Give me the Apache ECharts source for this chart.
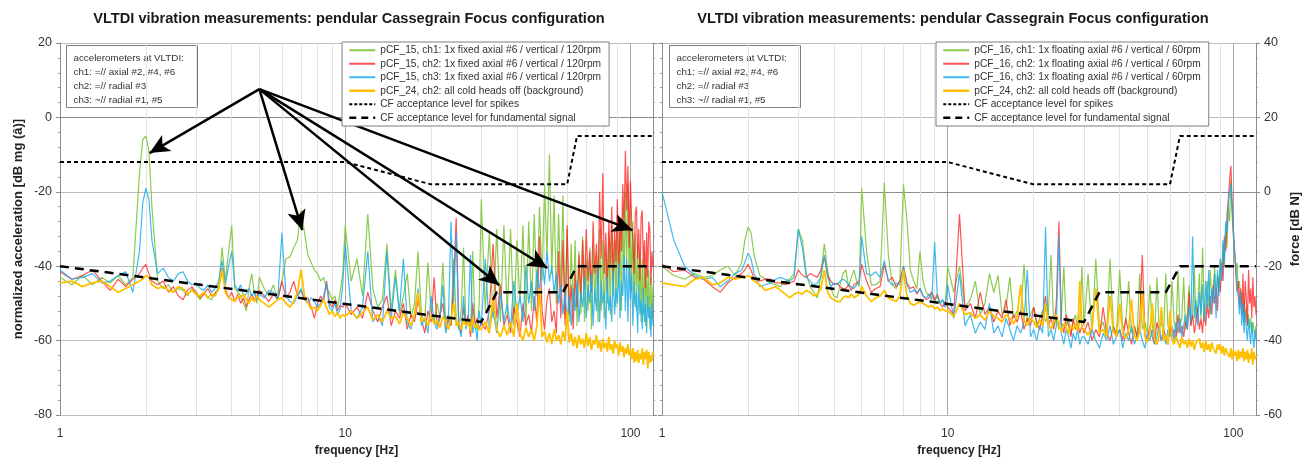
<!DOCTYPE html>
<html>
<head>
<meta charset="utf-8">
<title>VLTDI vibration measurements</title>
<script src="https://cdn.jsdelivr.net/npm/echarts@6.0.0/dist/echarts.min.js"></script>
<style>
  html, body { margin: 0; padding: 0; background: #fff; }
  #chart { width: 1306px; height: 463px; }
</style>
</head>
<body>
<div id="chart"></div>
<script>
// frequency bins [Hz] shared by every spectrum
const freq = [
  1.0, 1.1, 1.2, 1.3, 1.4, 1.5, 1.6, 1.7, 1.8, 1.9, 1.95, 2.0, 2.05,
  2.1, 2.2, 2.3, 2.4, 2.5, 2.6, 2.7, 2.8, 2.9, 3.0, 3.1, 3.2, 3.3, 3.4, 3.5, 3.6, 3.7, 3.8, 3.9, 4.0,
  4.1, 4.2, 4.3, 4.4, 4.5, 4.6, 4.7, 4.8, 4.9,
  5.0, 5.2, 5.4, 5.6, 5.8, 6.0, 6.2, 6.4, 6.6, 6.8, 7.0, 7.2, 7.4, 7.6, 7.8, 8.0, 8.2, 8.4, 8.6, 8.8,
  9.0, 9.2, 9.4, 9.6, 9.8,
  10, 10.5, 11, 11.5, 12, 12.5, 13, 13.5, 14, 14.5, 15, 15.5, 16, 16.5, 17, 17.5, 18, 18.5, 19, 19.5,
  20, 20.5, 21, 21.5, 22, 22.5, 23, 23.5, 24, 24.5, 25, 25.5, 26, 26.5, 27, 27.5, 28, 28.5, 29, 29.5,
  30, 31, 32, 33, 34, 35, 36, 37, 38, 39, 40, 41, 42, 43, 44, 45, 46, 47, 48, 49,
  50, 51, 52, 53, 54, 55, 56, 57, 58, 59, 60, 61, 62, 63, 64, 65, 66, 67, 68, 69,
  70, 71, 72, 73, 74, 75, 76, 77, 78, 79, 80, 81, 82, 83, 84, 85, 86, 87, 88, 89,
  90, 91, 92, 93, 94, 95, 96, 97, 98, 99, 100, 101, 102, 103, 104, 105, 106, 107, 108, 109,
  110, 111, 112, 113, 114, 115, 116, 117, 118, 119, 120
];

// left panel: pCF_15 (120rpm), dB mg
const leftCh1 = [
  -43, -45, -42.5, -45, -43, -44.5, -42.5, -45, -43, -15, -6, -5, -9,
  -24, -44, -46, -45, -47, -46, -46.5, -48, -46, -47.5, -49, -47, -48.5, -49, -47, -46, -35, -44, -36, -29,
  -46, -47, -48, -50, -52, -46, -42, -47, -50,
  -43, -46, -48, -45, -49, -44, -38, -37.5, -35, -33, -25, -31, -37, -39, -41, -42, -44, -43, -46, -47,
  -49, -48, -51, -47, -42,
  -29, -44, -38, -48, -26, -46, -51, -49, -34, -52, -41, -53, -48, -42, -54, -50, -36, -53, -55, -39,
  -52, -55, -50, -54, -39, -55, -53, -56, -38, -54, -57, -52, -35, -56, -54, -58, -36, -55, -57, -50,
  -22, -52, -31, -54, -30, -55, -29, -53, -30, -56, -33, -50, -29, -55, -28, -52, -26, -48, -24, -44,
  -18, -38, -10, -42, -21, -50, -26, -47, -21, -54, -30, -55, -34, -52, -33, -56, -36, -53, -32, -55,
  -38, -52, -35, -57, -34, -50, -37, -55, -30, -52, -33, -54, -36, -50, -31, -53, -29, -48, -33, -51,
  -27, -46, -30, -52, -24, -44, -20, -41, -18, -45, -24, -47, -28, -50, -31, -52, -34, -49, -36, -55,
  -38, -53, -36, -56, -40, -52, -41, -57, -43, -54, -45
];
const leftCh2 = [
  -41.5, -43.5, -42.5, -41, -44, -46.5, -43.5, -45.5, -43.5, -42, -40.5, -39.5, -42,
  -44, -45, -44, -47, -45.5, -48, -49, -46.5, -45.5, -47, -48.5, -47.5, -46, -48, -47.5, -46, -40.5, -46, -48.5, -47,
  -49.5, -47.5, -50, -48.5, -51, -49, -47.5, -49, -48,
  -46.5, -48, -49.5, -47.5, -49, -44, -48.5, -47, -44, -48, -46.5, -49, -48.5, -51, -54, -50, -48, -49.5, -44, -50,
  -51, -49, -52, -50.5, -51,
  -50, -53, -51, -54, -47, -52, -55, -51, -48, -56, -52, -54, -50, -57, -53, -55, -49, -54, -58, -52,
  -55, -43, -56, -53, -50, -57, -54, -56, -44, -27, -55, -58, -51, -56, -53, -59, -50, -56, -54, -57,
  -55, -57, -52, -34, -54, -45, -56, -53, -58, -51, -55, -59, -50, -56, -53, -58, -48, -55, -32, -52,
  -57, -49, -46, -55, -52, -58, -36, -54, -33, -56, -29, -53, -45, -57, -42, -51, -37, -48, -33, -46,
  -30, -44, -36, -47, -28, -42, -34, -45, -20, -38, -15, -42, -31, -47, -28, -40, -24, -44, -30, -39,
  -22, -43, -27, -36, -18, -30, -9, -25, -13, -35, -17, -28, -33, -42, -26, -24, -38, -30, -44, -27,
  -25, -40, -33, -46, -31, -43, -28, -30, -45, -36, -40
];
const leftCh3 = [
  -41, -43.5, -43, -42, -44.5, -44, -42.5, -41.5, -47, -36, -23, -19, -22,
  -33, -42, -40.5, -43, -44, -42, -41.5, -44, -45, -44.5, -46, -46.5, -45, -47, -46, -44, -38.5, -45, -40, -36,
  -45, -46.5, -45, -48, -47.5, -46, -48, -47, -49,
  -47.5, -48.5, -46.5, -47, -49, -31, -48, -49.5, -50, -48, -46, -49, -50, -48.5, -49.5, -51, -50, -48, -44.5, -51,
  -52, -50, -53, -51.5, -45,
  -34, -52, -54, -51, -36, -55, -53, -56, -36, -54, -43, -52, -38, -55, -57, -53, -46, -56, -54, -58,
  -48, -55, -57, -54, -45, -58, -55, -28, -50, -31, -56, -59, -48, -57, -54, -37, -58, -55, -60, -52,
  -56, -38, -57, -52, -58, -47, -55, -50, -57, -44, -53, -48, -55, -40, -50, -44, -52, -41, -47, -38,
  -45, -36, -44, -40, -47, -42, -50, -45, -53, -47, -55, -48, -56, -46, -52, -44, -55, -47, -51, -43,
  -54, -45, -50, -42, -56, -46, -52, -40, -55, -44, -50, -47, -57, -43, -52, -48, -55, -41, -53, -46,
  -50, -39, -54, -44, -48, -37, -52, -38, -55, -40, -49, -42, -56, -44, -51, -47, -58, -45, -53, -49,
  -57, -46, -55, -50, -58, -48, -54, -51, -59, -50, -56
];
const leftBg = [
  -44.5, -44, -45.5, -44.5, -44, -45.5, -47, -46, -45, -44, -43.5, -42.5, -43,
  -45, -46, -45.5, -46.5, -47, -45.5, -46, -47.5, -46.5, -47.5, -48, -47, -48.5, -47.5, -48, -46, -41, -47, -48.5, -49,
  -49.5, -48, -48.5, -47.5, -49, -50, -48.5, -49.5, -48,
  -49, -50, -51, -50, -49, -48.5, -50, -51, -49.5, -47, -41, -48, -50, -51.5, -51, -52, -50.5, -49, -51, -53,
  -52, -53.5, -52.5, -54, -53,
  -53.5, -52, -54, -52.5, -51, -54.5, -53, -55, -52, -54, -53.5, -55.5, -52.5, -54, -56, -53, -47, -55, -54, -56,
  -53, -55.5, -54.5, -56.5, -53.5, -55, -57, -54, -50, -56, -55, -57, -54.5, -56, -55, -57.5, -54, -56.5, -55.5, -57,
  -57, -55, -58, -48, -57, -59, -56, -58.5, -55, -59, -50, -58, -60, -56.5, -59, -57, -60, -56, -46, -59,
  -57.5, -60.5, -58, -61, -57, -60, -58.5, -61, -57.5, -60, -52, -60.5, -58, -61.5, -59, -62, -58.5, -61, -59.5, -62,
  -58, -61.5, -59, -62.5, -60, -61, -58.5, -62, -60, -63, -59.5, -62, -60.5, -63, -59, -62.5, -61, -63.5, -60, -62,
  -61, -64, -60.5, -63, -61.5, -64.5, -62, -63.5, -61, -64, -62.5, -65, -62, -66, -63, -65.5, -62.5, -66, -63.5, -65,
  -62, -66.5, -63, -65, -62.5, -67.5, -63, -66, -64, -65.5, -63
];

// right panel: pCF_16 (60rpm), dB N
const rightCh1 = [
  -20, -22.5, -23.5, -22, -23, -22.5, -21, -20, -22.5, -19, -13, -9.5, -11,
  -17, -22.5, -23.5, -24.5, -25, -25.5, -24, -23.5, -22, -10, -13, -22, -25.5, -27, -28.5, -22, -14, -21, -26, -28,
  -28.5, -25, -22, -21, -25.5, -23, -21, -24, -25.5,
  1, -16, -25, -25, -24, 2.5, -17, -25, -26, -24, 2, -7.5, -21, -24, -26, -16, -24, -27, -28, -27,
  -29.5, -28, -30, -29, -31,
  -20, -27, -20, -31, -29, -24, -33, -30, -22, -27, -22.5, -33, -31, -23, -34, -32, -33, -19.5, -35, -33,
  -31, -36, -34, -32, -35, -33, -17, -36, -34, -37, -33, -20, -36, -34, -38, -35, -33, -37, -35, -20,
  -36, -22, -38, -18, -37, -35, -39, -18, -36, -38, -21, -37, -35, -24, -38, -36, -39, -22, -37, -35,
  -38, -25, -36, -39, -23, -37, -35, -38, -22, -36, -38, -24, -35, -38, -21, -36, -34, -23, -37, -33,
  -25, -36, -32, -20, -35, -31, -22, -34, -15, -30, -33, -24, -31, -21, -29, -26, -20, -28, -22, -26,
  -18, -24, -14, -20, -9, -15, -4, -8, 3, -6, -12, -16, -21, -19, -26, -24, -30, -27, -33, -29,
  -35, -31, -36, -33, -37, -34, -38, -35, -37, -39, -36
];
const rightCh2 = [
  -19.5, -21.5, -21, -23, -23.5, -25.5, -27, -24.5, -23, -22, -21, -19.5, -21,
  -23.5, -24, -23.5, -23.5, -24.5, -24.5, -25, -24.5, -24, -21, -22.5, -23, -22, -22.5, -23, -21, -17.5, -22.5, -24, -25,
  -24.5, -25.5, -26, -26, -25, -26.5, -25, -24.5, -24,
  -19.5, -24, -27, -26, -25.5, -19.5, -24, -23, -25.5, -24, -20, -24.5, -26, -25.5, -27.5, -26, -28, -29, -28.5, -27,
  -29, -27.5, -30, -31, -29.5,
  -31, -33, -6, -32, -30, -34, -27, -33, -31, -35, -32, -34, -29, -36, -33, -35, -32, -37, -34, -36,
  -31, -35, -37, -33, -28, -36, -34, -37, -30, -8, -35, -38, -33, -36, -39, -34, -37, -35, -38, -36,
  -38, -35, -40, -37, -39, -31, -38, -40, -36, -39, -37, -40, -34, -38, -41, -36, -39, -35, -17, -38,
  -40, -36, -39, -41, -35, -38, -40, -37, -39, -41, -36, -39, -37, -40, -33, -38, -36, -39, -35, -37,
  -27, -36, -33, -38, -35, -31, -37, -34, -38, -32, -36, -30, -34, -28, -33, -25, -30, -26, -32, -23,
  -27, -19, -24, -12, -16, -6, -2, 3, 7, -3, -10, -16, -22, -27, -24, -31, -26, -33, -22, -35,
  -24, -29, -36, -21, -30, -26, -34, -23, -31, -28, -33
];
const rightCh3 = [
  0, -13, -20, -22.5, -23.5, -23, -25.5, -24, -22, -21, -19, -16.5, -18,
  -22, -25.5, -25, -24.5, -23.5, -23, -23.5, -24, -23, -10, -15, -23, -24, -25, -24.5, -23, -17, -23, -25.5, -24.5,
  -25, -24, -23.5, -24, -25, -25.5, -26, -25, -24.5,
  -12, -22, -22.5, -21.5, -23, -18.5, -24, -25, -24.5, -25, -20, -25, -27, -26.5, -27, -26, -28, -28.5, -27.5, -29,
  -13.5, -28, -30, -29, -31,
  -25, -34, -22, -36, -33, -38, -35, -37, -30, -38, -36, -39, -34, -37, -40, -36, -38, -35, -21, -39,
  -37, -40, -36, -38, -9.5, -39, -37, -40, -36, -12, -38, -41, -37, -39, -42, -38, -40, -37, -41, -39,
  -39, -41, -37, -40, -42, -38, -40, -36, -41, -39, -37, -42, -38, -40, -36, -41, -39, -37, -40, -42,
  -38, -40, -37, -41, -39, -36, -40, -38, -41, -37, -39, -36, -40, -35, -38, -34, -39, -36, -33, -37,
  -31, -35, -12, -34, -29, -36, -27, -33, -25, -35, -24, -31, -21, -33, -26, -30, -22, -34, -21, -28,
  -18, -24, -13, -19, -8, -11, -3, 0, 2, -4, -11, -17, -20, -26, -28, -33, -27, -36, -30, -38,
  -32, -37, -40, -34, -38, -41, -35, -39, -42, -37, -40
];
const rightBg = [
  -24.5, -25, -25.5, -23.5, -23, -25, -24.5, -23, -23.5, -23, -23, -22.5, -23,
  -24, -25, -26.5, -26, -25.5, -26.5, -27.5, -28.5, -27.5, -27, -27.5, -26.5, -27, -28, -27.5, -26, -21, -27, -28.5, -29,
  -29.5, -29.5, -28.5, -28, -28.5, -27.5, -28.5, -28, -27.5,
  -25.5, -28, -29.5, -28.5, -28, -26.5, -28.5, -29, -29.5, -28, -21, -28, -30, -30.5, -30, -29.5, -30, -30.5, -31, -30.5,
  -31.5, -31, -32, -31.5, -32,
  -32, -33.5, -30, -33, -32.5, -34, -33, -34.5, -32, -33.5, -34, -35, -33, -34, -35.5, -33.5, -25, -34.5, -36, -34,
  -35, -36.5, -34.5, -36, -30, -35.5, -37, -35, -33, -36, -37.5, -35.5, -36.5, -38, -36, -37, -35.5, -37.5, -24, -36.5,
  -37, -38.5, -36.5, -26, -38, -37, -39, -28, -37.5, -39, -30, -38, -39.5, -37, -29, -38.5, -40, -37.5, -27, -39,
  -40.5, -38, -30, -39.5, -41, -38.5, -31, -40, -38.5, -41, -32, -39.5, -41, -39, -40.5, -42, -39, -41, -40, -42,
  -39.5, -41.5, -40, -42.5, -40.5, -41, -39.5, -42, -40.5, -43, -40, -42.5, -41, -43, -40.5, -42, -41.5, -43.5, -41, -42.5,
  -41, -43.5, -41.5, -44, -42, -43, -42.5, -44.5, -42, -45, -42.5, -44, -43, -45.5, -42.5, -45, -43, -44.5, -42, -45.5,
  -43, -45, -42.5, -46, -43.5, -45, -42, -46.5, -43, -45, -44
];

// CF acceptance levels (break points)
const spikeFreq = [1, 10, 20, 60, 65, 120];
const leftSpikeLevel = [-12, -12, -18, -18, -5, -5];
const rightSpikeLevel = [8, 8, 2, 2, 15, 15];
const fundFreq = [1, 30, 34, 58, 65, 120];
const leftFundLevel = [-40, -55, -47, -47, -40, -40];
const rightFundLevel = [-20, -35, -27, -27, -20, -20];

// annotation arrows in the left panel: common origin and the tips [Hz, dB]
const arrowFrom = [5.0, 7.6];
const arrowTips = [[2.06, -9.6], [7.07, -30.3], [34.7, -45.1], [51.1, -40.5], [101.6, -30.3]];

const minorFreqs = [2, 3, 4, 5, 6, 7, 8, 9, 20, 30, 40, 50, 60, 70, 80, 90];

const TITLE = 'VLTDI vibration measurements: pendular Cassegrain Focus configuration';
const NOTE = ['accelerometers at VLTDI:', 'ch1: =// axial #2, #4, #6', 'ch2: =// radial #3', 'ch3: ~// radial #1, #5'];
const BG_NAME = 'pCF_24, ch2: all cold heads off (background)';
const SPIKE_NAME = 'CF acceptance level for spikes';
const FUND_NAME = 'CF acceptance level for fundamental signal';
const leftNames = [
  'pCF_15, ch1: 1x fixed axial #6 / vertical / 120rpm',
  'pCF_15, ch2: 1x fixed axial #6 / vertical / 120rpm',
  'pCF_15, ch3: 1x fixed axial #6 / vertical / 120rpm'
];
const rightNames = [
  'pCF_16, ch1: 1x floating axial #6 / vertical / 60rpm',
  'pCF_16, ch2: 1x floating axial #6 / vertical / 60rpm',
  'pCF_16, ch3: 1x floating axial #6 / vertical / 60rpm'
];

const FONT = '"Liberation Sans", Arial, sans-serif';
const GREEN = '#8CCB4E', RED = '#FF1A1A', BLUE = '#1EADEB', YELLOW = '#FFC000';

const pairs = (xs, ys) => xs.map((x, i) => [x, ys[i]]);

function spectrum(name, vals, color, width, opacity, gi) {
  return {
    type: 'line', name: name, xAxisIndex: gi, yAxisIndex: gi * 2,
    data: pairs(freq, vals), symbol: 'none', showSymbol: false, silent: true,
    lineStyle: { color: color, width: width, opacity: opacity },
    itemStyle: { color: color }, z: 3
  };
}

function level(name, xs, ys, dash, width, gi) {
  return {
    type: 'line', name: name, xAxisIndex: gi, yAxisIndex: gi * 2,
    data: pairs(xs, ys), symbol: 'none', showSymbol: false, silent: true,
    lineStyle: { color: '#000', width: width, type: dash },
    itemStyle: { color: '#000' }, z: 4
  };
}

function minorGrid(gi) {
  return {
    type: 'line', xAxisIndex: gi, yAxisIndex: gi * 2, data: [], silent: true, z: 1,
    markLine: {
      silent: true, symbol: 'none', animation: false, label: { show: false }, z: 1,
      lineStyle: { color: '#e2e2e2', width: 1, type: 'solid' },
      data: minorFreqs.map(f => ({ xAxis: f }))
    }
  };
}

function freqAxis(gi) {
  return {
    type: 'log', logBase: 10, min: 1, max: 120, gridIndex: gi,
    name: 'frequency [Hz]', nameLocation: 'middle', nameGap: 29,
    nameTextStyle: { fontWeight: 'bold', fontSize: 12, color: '#222', fontFamily: FONT },
    axisLine: { lineStyle: { color: '#8c8c8c' } },
    axisTick: { show: true, length: 4, lineStyle: { color: '#8c8c8c' } },
    axisLabel: { color: '#333', fontSize: 12, margin: 13, showMaxLabel: false, fontFamily: FONT },
    splitLine: { show: true, lineStyle: { color: '#a8a8a8' } }
  };
}

function levelAxis(gi, min, max, pos, labelled, name, gap) {
  return {
    type: 'value', gridIndex: gi, min: min, max: max, interval: 20, position: pos,
    name: labelled ? name : '', nameLocation: 'middle', nameGap: gap, nameRotate: 90,
    nameTextStyle: { fontWeight: 'bold', fontSize: 13, color: '#222', fontFamily: FONT },
    axisLine: { show: true, onZero: false, lineStyle: { color: '#8c8c8c' } },
    axisTick: { show: true, length: 4, lineStyle: { color: '#8c8c8c' } },
    minorTick: { show: true, splitNumber: 5, length: 2, lineStyle: { color: '#9c9c9c' } },
    axisLabel: { show: labelled, color: '#333', fontSize: 12.5, margin: 8, fontFamily: FONT },
    splitLine: { show: labelled, lineStyle: { color: '#bdbdbd' } }
  };
}

function legendBox(left, names) {
  const line = (n, w, t) => ({ name: n, lineStyle: t ? { width: w, type: t } : { width: w },
    itemStyle: { opacity: 0, borderWidth: 0 } });
  const items = names.map(n => line(n, 2))
    .concat([line(BG_NAME, 2.5), line(SPIKE_NAME, 2, [3, 2]), line(FUND_NAME, 2.5, [7, 5])]);
  return {
    orient: 'vertical', left: left, top: 42, data: items, z: 8,
    itemWidth: 26, itemHeight: 10, itemGap: 3,
    padding: [3, 8, 3, 6], backgroundColor: '#fff',
    borderColor: '#7f7f7f', borderWidth: 1, borderRadius: 0,
    selectedMode: false,
    textStyle: { fontSize: 10.2, lineHeight: 10.5, color: '#333', fontFamily: FONT }
  };
}

function noteBox(left) {
  return {
    type: 'group', left: left, top: 45, z: 20,
    children: [
      { type: 'rect', shape: { x: 0, y: 0, width: 131, height: 62 },
        style: { fill: '#fff', stroke: '#7f7f7f', lineWidth: 1 } },
      { type: 'text', x: 7, y: 6,
        style: { text: NOTE.join('\n'), font: '9.8px ' + FONT, lineHeight: 14, fill: '#333' } }
    ]
  };
}

const chart = echarts.init(document.getElementById('chart'), null, { renderer: 'canvas' });

chart.setOption({
  animation: false,
  backgroundColor: '#fff',
  title: [
    { text: TITLE, left: 349, top: 11, textAlign: 'center', padding: 0,
      textStyle: { fontSize: 14.6, fontWeight: 'bold', color: '#1a1a1a', fontFamily: FONT } },
    { text: TITLE, left: 953, top: 11, textAlign: 'center', padding: 0,
      textStyle: { fontSize: 14.6, fontWeight: 'bold', color: '#1a1a1a', fontFamily: FONT } }
  ],
  grid: [
    { left: 60, top: 43, width: 593, height: 372 },
    { left: 662, top: 43, width: 594, height: 372 }
  ],
  xAxis: [freqAxis(0), freqAxis(1)],
  yAxis: [
    levelAxis(0, -80, 20, 'left', true, 'normalized acceleration [dB mg (â)]', 35),
    levelAxis(0, -80, 20, 'right', false, '', 0),
    levelAxis(1, -60, 40, 'right', true, 'force [dB N]', 33),
    levelAxis(1, -60, 40, 'left', false, '', 0)
  ],
  legend: [legendBox(342, leftNames), legendBox(936, rightNames)],
  graphic: [noteBox(66), noteBox(669)],
  series: [
    minorGrid(0),
    minorGrid(1),
    spectrum(leftNames[0], leftCh1, GREEN, 1.2, 1, 0),
    spectrum(leftNames[1], leftCh2, RED, 1.2, 0.75, 0),
    spectrum(leftNames[2], leftCh3, BLUE, 1.2, 0.85, 0),
    spectrum(BG_NAME, leftBg, YELLOW, 1.8, 1, 0),
    level(SPIKE_NAME, spikeFreq, leftSpikeLevel, [4, 3], 2, 0),
    level(FUND_NAME, fundFreq, leftFundLevel, [9, 6], 2.5, 0),
    spectrum(rightNames[0], rightCh1, GREEN, 1.2, 1, 1),
    spectrum(rightNames[1], rightCh2, RED, 1.2, 0.75, 1),
    spectrum(rightNames[2], rightCh3, BLUE, 1.2, 0.85, 1),
    spectrum(BG_NAME, rightBg, YELLOW, 1.8, 1, 1),
    level(SPIKE_NAME, spikeFreq, rightSpikeLevel, [4, 3], 2, 1),
    level(FUND_NAME, fundFreq, rightFundLevel, [9, 6], 2.5, 1),
    {
      type: 'line', xAxisIndex: 0, yAxisIndex: 0, data: [], silent: true, z: 6,
      markLine: {
        silent: true, animation: false, symbol: ['none', 'arrow'], symbolSize: [14, 20], z: 6,
        label: { show: false },
        lineStyle: { color: '#000', width: 2.5, type: 'solid' },
        data: arrowTips.map(t => [{ coord: arrowFrom }, { coord: t }])
      }
    }
  ]
});
</script>
</body>
</html>
